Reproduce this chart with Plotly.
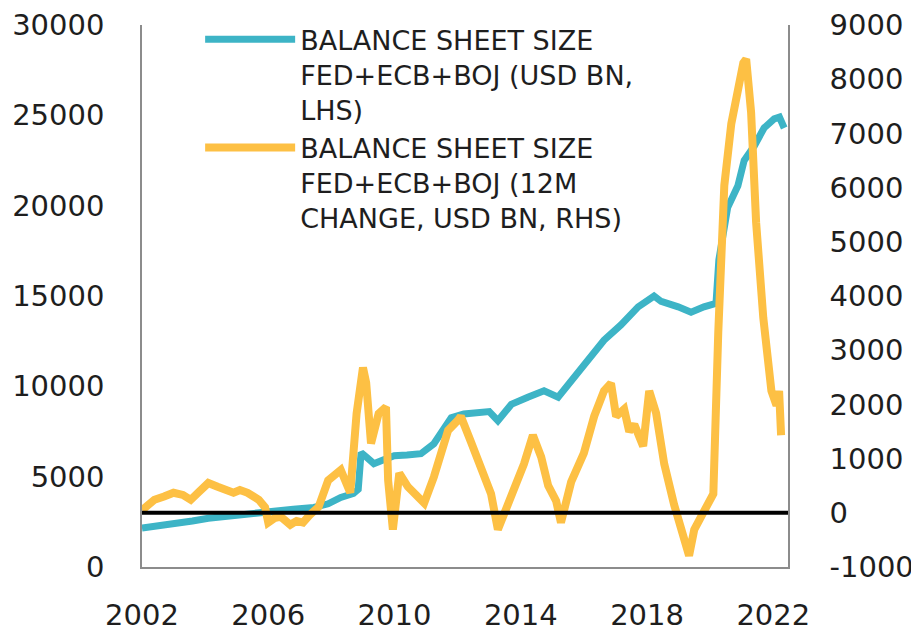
import plotly.graph_objects as go

# ---- Data ----
bs_dates = ["2002-01-01", "2002-07-01", "2003-01-01", "2003-08-07", "2004-02-07", "2004-08-07",
            "2005-02-07", "2005-08-07", "2006-03-13", "2006-10-19", "2007-06-13", "2007-11-25",
            "2008-04-19", "2008-09-13", "2008-11-07", "2008-12-10", "2009-02-07", "2009-05-07",
            "2009-08-07", "2009-12-28", "2010-05-25", "2010-11-03", "2011-04-01", "2011-07-01",
            "2011-10-19", "2012-03-13", "2012-08-07", "2013-01-01", "2013-04-11", "2013-09-13",
            "2014-03-23", "2014-09-27", "2015-03-09", "2015-08-07", "2016-02-21", "2016-08-21",
            "2017-03-05", "2017-09-20", "2018-03-23", "2018-06-13", "2018-12-27", "2019-05-25",
            "2019-10-22", "2020-03-09", "2020-04-11", "2020-07-22", "2020-11-17", "2021-01-29",
            "2021-05-25", "2021-09-16", "2022-01-11", "2022-03-13", "2022-05-07"]
bs_size = [2150, 2250, 2400, 2550, 2700, 2800,
           2950, 3000, 3130, 3200, 3300, 3500,
           3850, 4070, 4300, 6330, 6100, 5720,
           5900, 6160, 6200, 6270, 6820, 7400,
           8260, 8470, 8550, 8600, 8100, 9000,
           9400, 9750, 9400, 10300, 11350, 12550,
           13400, 14400, 15000, 14700, 14400, 14100,
           14400, 14600, 17000, 19900, 21100, 22500,
           23300, 24300, 24800, 24900, 24300]

chg_dates = ["2002-01-01", "2002-03-13", "2002-05-25", "2002-09-13", "2003-01-01", "2003-04-19",
             "2003-07-19", "2003-10-19", "2004-02-07", "2004-05-25", "2004-09-13", "2004-11-25",
             "2005-02-07", "2005-05-07", "2005-09-13", "2005-11-25", "2006-01-01", "2006-03-13",
             "2006-05-25", "2006-09-13", "2006-11-25", "2007-02-07", "2007-04-19", "2007-08-07",
             "2007-11-25", "2008-02-07", "2008-04-19", "2008-08-07", "2008-10-19", "2009-01-01",
             "2009-02-07", "2009-04-04", "2009-07-01", "2009-09-24", "2009-10-19", "2009-12-13",
             "2010-02-25", "2010-06-05", "2010-09-13", "2010-12-10", "2011-04-01", "2011-09-13",
             "2012-01-01", "2012-02-07", "2012-06-05", "2012-10-01", "2013-01-22", "2013-04-11",
             "2013-06-20", "2013-10-15", "2014-02-07", "2014-05-21", "2014-08-25", "2014-11-14",
             "2015-02-14", "2015-04-11", "2015-08-07", "2016-01-01", "2016-04-29", "2016-08-21",
             "2016-11-10", "2017-01-08", "2017-04-11", "2017-06-09", "2017-08-07", "2017-11-17",
             "2018-01-26", "2018-04-16", "2018-07-19", "2018-11-10", "2019-03-05", "2019-05-02",
             "2019-07-01", "2019-10-23", "2020-02-07", "2020-04-04", "2020-06-13", "2020-09-02",
             "2020-12-04", "2021-01-19", "2021-02-21", "2021-04-19", "2021-06-16", "2021-09-07",
             "2021-12-10", "2022-02-07", "2022-03-09", "2022-04-01"]
chg_12m = [50, 150, 240, 300, 370, 330,
           240, 380, 550, 480, 420, 370,
           420, 370, 240, 100, -180, -100,
           -70, -220, -150, -180, -50, 110,
           600, 700, 790, 370, 1830, 2680,
           2400, 1280, 1830, 1950, 600, -310,
           730, 480, 300, 180, 660, 1520,
           1700, 1780, 1300, 770, 350, -310,
           -50, 420, 900, 1430, 1030, 500,
           220, -180, 570, 1100, 1780, 2250,
           2390, 1780, 1910, 1500, 1630, 1230,
           2250, 1840, 900, 150, -460, -790,
           -310, 20, 350, 3330, 6040, 7180,
           7930, 8300, 8370, 7390, 5360, 3600,
           2250, 1980, 2250, 1430]

x_tick_vals = ["2002-01-01", "2006-01-01", "2010-01-01", "2014-01-01", "2018-01-01", "2022-01-01"]
x_tick_text = ["2002", "2006", "2010", "2014", "2018", "2022"]
y_left_ticks = [0, 5000, 10000, 15000, 20000, 25000, 30000]
y_left_text = ["0", "5000", "10000", "15000", "20000", "25000", "30000"]
y_right_ticks = [-1000, 0, 1000, 2000, 3000, 4000, 5000, 6000, 7000, 8000, 9000]
y_right_text = ["-1000", "0", "1000", "2000", "3000", "4000", "5000", "6000", "7000", "8000", "9000"]

name_bs = "BALANCE SHEET SIZE<br>FED+ECB+BOJ (USD BN,<br>LHS)"
name_chg = "BALANCE SHEET SIZE<br>FED+ECB+BOJ (12M<br>CHANGE, USD BN, RHS)"

CYAN = "#3db4c6"
ORANGE = "#fdc044"
FONT = "DejaVu Sans"
TXT = "#1e1e1e"
AXLINE = "#8c8c8c"

fig = go.Figure()
fig.add_trace(go.Scatter(x=bs_dates, y=bs_size, mode="lines", name=name_bs,
                         line=dict(color=CYAN, width=7), yaxis="y"))
fig.add_trace(go.Scatter(x=chg_dates, y=chg_12m, mode="lines", name=name_chg,
                         line=dict(color=ORANGE, width=8), yaxis="y2"))

fig.add_shape(type="line", xref="paper", x0=0, x1=1, yref="y2", y0=0, y1=0,
              line=dict(color="black", width=4), layer="above")

# page body has an 8px margin, so the figure is sized to fit the 919x631 window
fig.update_layout(
    width=911, height=623,
    margin=dict(l=134, r=131, t=17, b=64, autoexpand=False),
    paper_bgcolor="white", plot_bgcolor="white",
    font=dict(family=FONT, color=TXT),
    showlegend=True,
    legend=dict(x=0.09, y=1.018, xanchor="left", yanchor="top", valign="top",
                bgcolor="rgba(0,0,0,0)", font=dict(family=FONT, size=27, color=TXT),
                itemwidth=90, tracegroupgap=0),
    xaxis=dict(type="date", range=["2002-01-01", "2022-06-20"], automargin=False,
               tickvals=x_tick_vals, ticktext=x_tick_text, ticklabeloverflow="allow",
               showgrid=False, zeroline=False, showline=True, linecolor=AXLINE, linewidth=1.5,
               ticks="", ticklabelstandoff=21, tickfont=dict(family=FONT, size=29, color=TXT)),
    yaxis=dict(range=[0, 30000], tickvals=y_left_ticks, ticktext=y_left_text, automargin=False,
               ticklabeloverflow="allow",
               showgrid=False, zeroline=False, showline=True, linecolor=AXLINE, linewidth=1.5,
               ticks="", ticklabelstandoff=30, tickfont=dict(family=FONT, size=29, color=TXT)),
    yaxis2=dict(range=[-1000, 9000], tickvals=y_right_ticks, ticktext=y_right_text,
                overlaying="y", side="right", automargin=False, ticklabeloverflow="allow",
                showgrid=False, zeroline=False, showline=True, linecolor=AXLINE, linewidth=1.5,
                ticks="", ticklabelstandoff=34, tickfont=dict(family=FONT, size=29, color=TXT)),
)

fig.write_html("out.html")
